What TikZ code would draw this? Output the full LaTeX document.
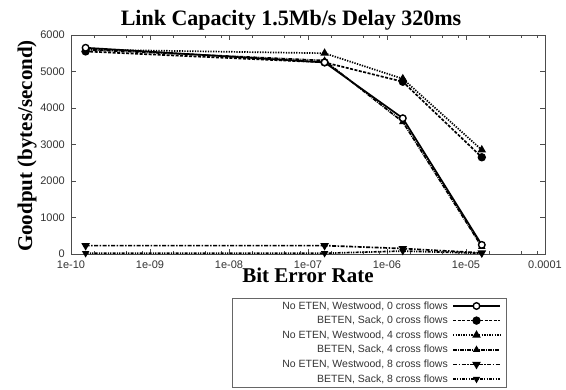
\documentclass[tikz,border=0pt]{standalone}
\usepackage{fontspec}
\setmainfont{Liberation Serif}
\setsansfont{Liberation Sans}
\usetikzlibrary{plotmarks,positioning}

\begin{document}
\begin{tikzpicture}[x=1pt, y=1pt,
	frame/.style={draw=black!70, line width=0.7pt},
	ticklab/.style={font=\sffamily\fontsize{11}{11}\selectfont, text=black!80, inner sep=0pt},
	biglab/.style={font=\bfseries\fontsize{21}{21}\selectfont, inner sep=0pt},
	legtext/.style={font=\sffamily\fontsize{10.5}{10.5}\selectfont, text=black!80, anchor=east, inner sep=0pt},
	series/.style={line width=1.7pt, mark size=3.3pt},
	wwzero/.style={series, solid, mark=*, mark options={solid, fill=white, line width=1.4pt}},
	sackzero/.style={series, dash pattern=on 3pt off 1.5pt, mark=*, mark options={solid, fill=black}},
	wwfour/.style={series, dash pattern=on 1.3pt off 1.3pt, mark=triangle*, mark options={solid}},
	sackfour/.style={series, dash pattern=on 4pt off 1pt on 1pt off 1pt, mark=triangle*, mark size=2.6pt, mark options={solid}},
	wweight/.style={series, dash pattern=on 4pt off 1.5pt on 1.5pt off 1.5pt, mark=triangle*, mark options={solid, rotate=180}},
	sackeight/.style={series, dash pattern=on 3pt off 1.2pt on 1.2pt off 1.2pt on 1.2pt off 1.2pt, mark=triangle*, mark size=2.6pt, mark options={solid, rotate=180}}]
	\useasboundingbox (0,0) rectangle (566,389);

	\node (title) [biglab, font=\bfseries\fontsize{22}{22}\selectfont] at (291,369) {Link Capacity 1.5Mb/s Delay 320ms};
	\node (ylab) [biglab, rotate=90] at (27,243) {Goodput (bytes/second)};
	\node (xlab) [biglab] at (308,114) {Bit Error Rate};

	% plot area: one decade per unit on x, 1000 bytes/s per unit on y
	\begin{scope}[shift={(71,135)}, x=79pt, y=36.5pt]
		\draw[frame] (0,0) rectangle (6,6);
		\foreach \d/\lab in {0/1e-10,1/1e-09,2/1e-08,3/1e-07,4/1e-06,5/1e-05,6/0.0001} {
			\draw[frame] (\d,0) -- ++(0,5pt) (\d,6) -- ++(0,-5pt);
			\node (xt\d) [ticklab, below=6.5pt] at (\d,0) {\lab};
		}
		\foreach \d in {0,...,5} {
			\foreach \m in {2,5,8} {
				\pgfmathsetmacro\lx{\d+log10(\m)}
				\draw[frame] (\lx,0) -- ++(0,3pt) (\lx,6) -- ++(0,-3pt);
			}
		}
		\foreach \v in {0,...,6} {
			\pgfmathtruncatemacro\val{\v*1000}
			\draw[frame] (0,\v) -- ++(5pt,0) (6,\v) -- ++(-5pt,0);
			\node (yt\v) [ticklab, left=6pt] at (0,\v) {\val};
		}

		\draw[sackfour] plot coordinates {(0.185,5.60) (3.21,5.30) (4.2,3.62) (5.2,0.20)};
		\draw[wwfour] plot coordinates {(0.185,5.60) (3.21,5.50) (4.2,4.80) (5.2,2.85)};
		\draw[sackzero] plot coordinates {(0.185,5.55) (3.21,5.25) (4.2,4.72) (5.2,2.65)};
		\draw[wwzero] plot coordinates {(0.185,5.65) (3.21,5.25) (4.2,3.72) (5.2,0.25)};
		\draw[sackeight] plot coordinates {(0.185,0.02) (3.21,0.02) (4.2,0.08) (5.2,0.02)};
		\draw[wweight] plot coordinates {(0.185,0.23) (3.21,0.23) (4.2,0.15) (5.2,0.03)};
	\end{scope}

	% legend
	\node (legend) [draw=black!60, line width=0.6pt, minimum width=274pt, minimum height=89pt, anchor=south west, inner sep=0pt] at (232,1) {};
	\foreach \sty/\txt [count=\i] in {wwzero/{No ETEN, Westwood, 0 cross flows}, sackzero/{BETEN, Sack, 0 cross flows}, wwfour/{No ETEN, Westwood, 4 cross flows}, sackfour/{BETEN, Sack, 4 cross flows}, wweight/{No ETEN, Westwood, 8 cross flows}, sackeight/{BETEN, Sack, 8 cross flows}} {
		\pgfmathsetmacro\yy{83-14.6*(\i-1)}
		\node (leg\i) [legtext] at (448,\yy) {\txt};
		\draw[\sty, mark indices={2}] plot coordinates {(453,\yy) (476.5,\yy) (500,\yy)};
	}
\end{tikzpicture}
\end{document}
